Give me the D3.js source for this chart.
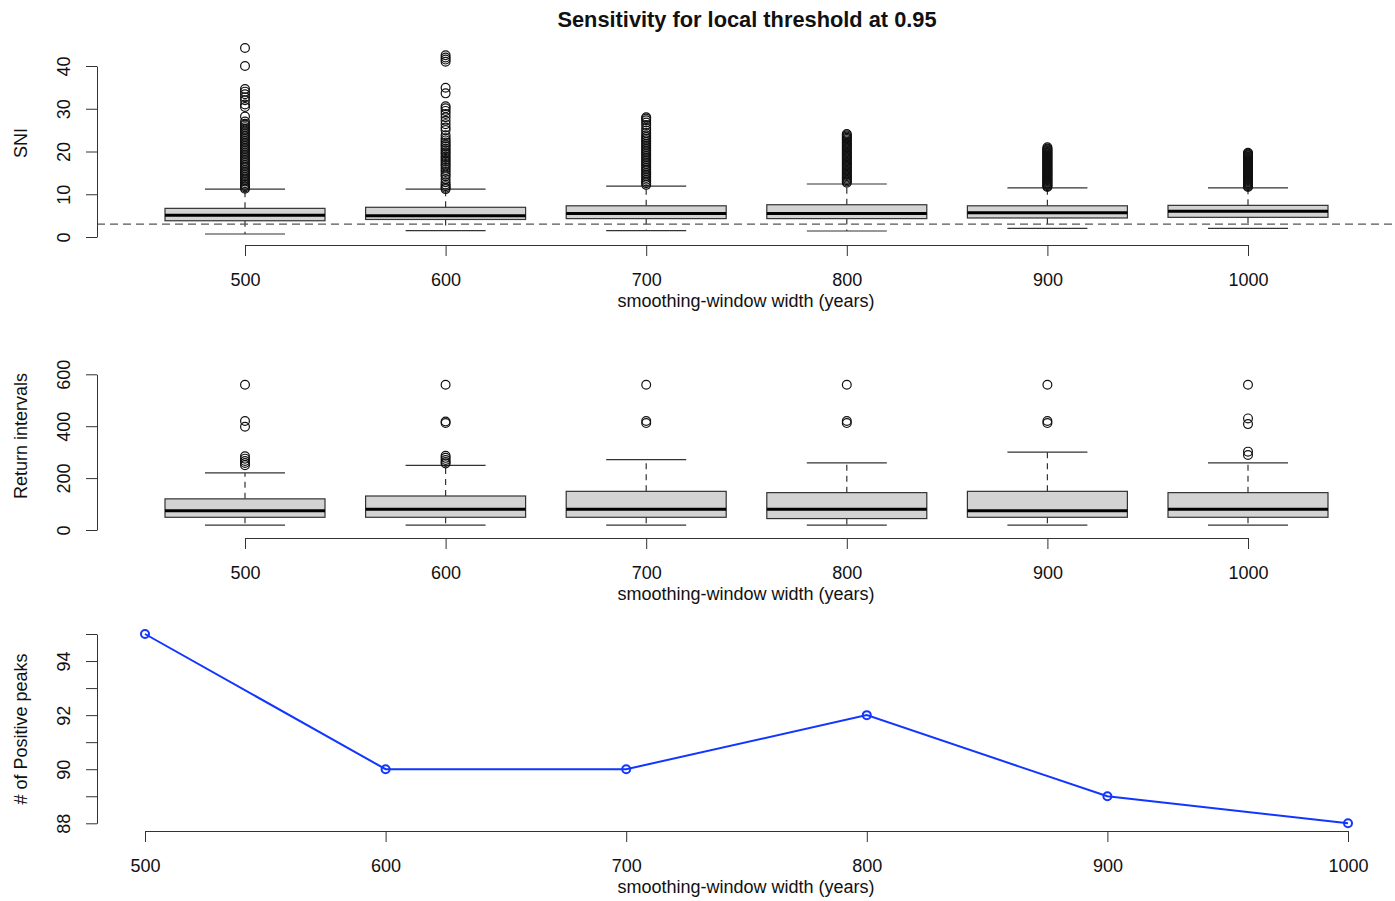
<!DOCTYPE html>
<html>
<head>
<meta charset="utf-8">
<script src="https://cdn.jsdelivr.net/npm/d3@7"></script>
<style>
  body { margin: 0; background: #fff; }
  svg { display: block; font-family: "Liberation Sans", Arial, Helvetica, sans-serif; }
</style>
</head>
<body>
<div id="chart"></div>
<script>
// smoothing windows (x categories)
const windows = [500, 600, 700, 800, 900, 1000];

// SNI box stats
const sniLow  = [0.7, 1.5, 1.5, 1.4, 2.0, 2.0];
const sniQ1   = [3.8, 4.1, 4.3, 4.3, 4.45, 4.6];
const sniMed  = [5.1, 5.0, 5.5, 5.5, 5.7, 6.0];
const sniQ3   = [6.7, 6.95, 7.3, 7.55, 7.3, 7.4];
const sniHigh = [11.2, 11.2, 11.9, 12.4, 11.5, 11.5];
const sniOutliers = [
  [11.3, 11.6, 11.9, 12.2, 12.6, 13.0, 13.3, 13.7, 14.1, 14.5, 14.9, 15.3, 15.7, 16.1, 16.5, 16.9, 17.3, 17.7, 18.1, 18.5, 18.9, 19.3, 19.7, 20.1, 20.5, 20.9, 21.3, 21.7, 22.1, 22.5, 22.9, 23.3, 23.7, 24.1, 24.5, 24.9, 25.3, 25.7, 26.1, 26.5, 27.0, 28.2, 30.4, 31.0, 32.0, 32.7, 33.4, 34.0, 34.6, 40.0, 44.2],
  [11.2, 11.5, 11.9, 12.3, 12.8, 13.5, 14.2, 14.6, 15.2, 15.7, 16.2, 16.7, 17.1, 17.6, 18.0, 18.5, 18.9, 19.4, 19.8, 20.3, 20.7, 21.2, 21.6, 22.1, 22.6, 23.1, 23.8, 25.0, 25.6, 26.4, 27.2, 28.0, 28.8, 29.5, 30.1, 30.6, 33.6, 34.9, 41.0, 41.5, 42.0, 42.5],
  [12.2, 12.6, 13.0, 13.4, 13.8, 14.2, 14.6, 15.0, 15.4, 15.8, 16.2, 16.6, 17.0, 17.4, 17.8, 18.2, 18.6, 19.0, 19.4, 19.8, 20.2, 20.6, 21.0, 21.4, 21.8, 22.2, 22.6, 23.0, 23.4, 23.8, 24.3, 24.9, 25.5, 26.2, 26.8, 27.3, 27.7, 28.0],
  [12.7, 13.0, 13.3, 13.6, 13.9, 14.2, 14.5, 14.8, 15.1, 15.4, 15.7, 16.0, 16.3, 16.6, 16.9, 17.2, 17.5, 17.8, 18.1, 18.4, 18.7, 19.0, 19.3, 19.6, 19.9, 20.2, 20.5, 20.8, 21.1, 21.4, 21.7, 22.0, 22.3, 22.6, 22.9, 23.2, 23.5, 23.8, 24.1],
  [11.7, 11.9, 12.1, 12.3, 12.5, 12.7, 12.9, 13.1, 13.3, 13.5, 13.7, 13.9, 14.1, 14.3, 14.5, 14.7, 14.9, 15.1, 15.3, 15.5, 15.7, 15.9, 16.1, 16.3, 16.5, 16.7, 16.9, 17.1, 17.3, 17.5, 17.7, 17.9, 18.1, 18.3, 18.5, 18.7, 18.9, 19.1, 19.3, 19.5, 19.7, 19.9, 20.1, 20.3, 20.5, 20.7, 21.0],
  [11.7, 11.9, 12.1, 12.3, 12.5, 12.7, 12.9, 13.1, 13.3, 13.5, 13.7, 13.9, 14.1, 14.3, 14.5, 14.7, 14.9, 15.1, 15.3, 15.5, 15.7, 15.9, 16.1, 16.3, 16.5, 16.7, 16.9, 17.1, 17.3, 17.5, 17.7, 17.9, 18.1, 18.3, 18.5, 18.7, 18.9, 19.1, 19.3, 19.5, 19.7]
];
const sniThreshold = 3;
const sniTicks = [0, 10, 20, 30, 40];

// Return interval box stats
const riLow  = [19, 19, 19, 19, 19, 19];
const riQ1   = [49, 49, 49, 44, 49, 49];
const riMed  = [74, 80, 80, 80, 74, 80];
const riQ3   = [120, 131, 149, 144, 149, 144];
const riHigh = [220, 249, 271, 259, 300, 259];
const riOutliers = [
  [250, 258, 266, 275, 284, 398, 420, 560],
  [256, 262, 270, 278, 286, 412, 418, 560],
  [412, 420, 560],
  [412, 420, 560],
  [412, 420, 560],
  [289, 302, 408, 430, 560]
];
const riTicks = [0, 200, 400, 600];

// number of positive peaks
const peaks = [95, 90, 90, 92, 89, 88];
const peakTicks = [88, 89, 90, 91, 92, 93, 94, 95];
const peakLabelled = [88, 90, 92, 94];

const W = 1395, H = 901;
const FONT = 18;
const axisCol = "#333";

const svg = d3.select("#chart").append("svg")
  .attr("width", W).attr("height", H);

svg.append("text")
  .attr("x", 747).attr("y", 27)
  .attr("text-anchor", "middle")
  .style("font-size", "21.8px").style("font-weight", "bold").attr("fill", "#111")
  .text("Sensitivity for local threshold at 0.95");

const plotLeft = 97, plotRight = 1396;
const xBox = d3.scaleLinear().domain([500, 1000]).range([245, 1248]);
const xLine = d3.scaleLinear().domain([500, 1000]).range([145, 1348]);

function styleAxis(g) {
  g.selectAll("path").attr("stroke", axisCol);
  g.selectAll(".tick line").attr("stroke", axisCol);
  g.selectAll("text").attr("fill", "#111").style("font-size", FONT + "px")
    .style("font-family", "Liberation Sans, Arial, Helvetica, sans-serif");
}

function drawXAxis(scale, yPos) {
  const g = svg.append("g")
    .attr("transform", `translate(0,${yPos})`)
    .call(d3.axisBottom(scale).tickValues(windows).tickFormat(d3.format("d"))
      .tickSize(11).tickSizeOuter(0))
    .call(styleAxis);
  g.selectAll(".tick text").attr("y", 41).attr("dy", 0);
  svg.append("text")
    .attr("x", 746).attr("y", yPos + 62)
    .attr("text-anchor", "middle").attr("fill", "#111")
    .style("font-size", FONT + "px")
    .text("smoothing-window width (years)");
}

function drawYAxis(scale, ticks, fmt, title, titleY) {
  const g = svg.append("g")
    .attr("transform", `translate(${plotLeft},0)`)
    .call(d3.axisLeft(scale).tickValues(ticks).tickFormat(fmt).tickSize(11).tickSizeOuter(0))
    .call(styleAxis);
  g.selectAll(".tick text")
    .attr("x", 0).attr("y", 0).attr("dy", 0)
    .attr("text-anchor", "middle")
    .attr("transform", "translate(-27,0) rotate(-90)");
  svg.append("text")
    .attr("transform", `translate(27,${titleY}) rotate(-90)`)
    .attr("text-anchor", "middle").attr("fill", "#111")
    .style("font-size", FONT + "px")
    .text(title);
}

function drawBoxes(y, low, q1, med, q3, high, outliers) {
  const half = 80, cap = 40;
  const g = svg.append("g");
  windows.forEach((w, i) => {
    const cx = xBox(w);
    // whiskers (dashed)
    g.append("line").attr("x1", cx).attr("x2", cx)
      .attr("y1", y(q3[i])).attr("y2", y(high[i]))
      .attr("stroke", axisCol).attr("stroke-width", 1.2).attr("stroke-dasharray", "6,5");
    g.append("line").attr("x1", cx).attr("x2", cx)
      .attr("y1", y(q1[i])).attr("y2", y(low[i]))
      .attr("stroke", axisCol).attr("stroke-width", 1.2).attr("stroke-dasharray", "6,5");
    // caps
    [low[i], high[i]].forEach(v => {
      g.append("line").attr("x1", cx - cap).attr("x2", cx + cap)
        .attr("y1", y(v)).attr("y2", y(v)).attr("stroke", axisCol).attr("stroke-width", 1.2);
    });
    // box
    g.append("rect")
      .attr("x", cx - half).attr("width", half * 2)
      .attr("y", y(q3[i])).attr("height", y(q1[i]) - y(q3[i]))
      .attr("fill", "#d3d3d3").attr("stroke", axisCol).attr("stroke-width", 1.2);
    g.append("line").attr("x1", cx - half).attr("x2", cx + half)
      .attr("y1", y(med[i])).attr("y2", y(med[i]))
      .attr("stroke", "#000").attr("stroke-width", 3);
    // outliers
    g.selectAll(null).data(outliers[i]).enter().append("circle")
      .attr("cx", cx).attr("cy", d => y(d)).attr("r", 4.4)
      .attr("fill", "none").attr("stroke", "#111").attr("stroke-width", 1.2);
  });
}

// ---- Panel 1: SNI
const ySni = d3.scaleLinear().domain([0, 40]).range([237, 66]);
drawBoxes(ySni, sniLow, sniQ1, sniMed, sniQ3, sniHigh, sniOutliers);
svg.append("line")
  .attr("x1", plotLeft).attr("x2", plotRight)
  .attr("y1", ySni(sniThreshold)).attr("y2", ySni(sniThreshold))
  .attr("stroke", "#555").attr("stroke-width", 1.3).attr("stroke-dasharray", "8,5");
drawYAxis(ySni, sniTicks, d3.format("d"), "SNI", 143);
drawXAxis(xBox, 245);

// ---- Panel 2: Return intervals
const yRi = d3.scaleLinear().domain([0, 600]).range([530, 374.3]);
drawBoxes(yRi, riLow, riQ1, riMed, riQ3, riHigh, riOutliers);
drawYAxis(yRi, riTicks, d3.format("d"), "Return intervals", 436);
drawXAxis(xBox, 538);

// ---- Panel 3: positive peaks
const yPk = d3.scaleLinear().domain([88, 95]).range([823.3, 634]);
const lineData = windows.map((w, i) => ({ w, v: peaks[i] }));
const blue = "#1236ff";
svg.append("path")
  .datum(lineData)
  .attr("fill", "none").attr("stroke", blue).attr("stroke-width", 2)
  .attr("d", d3.line().x(d => xLine(d.w)).y(d => yPk(d.v)));
svg.selectAll(".pk").data(lineData).enter().append("circle")
  .attr("class", "pk")
  .attr("cx", d => xLine(d.w)).attr("cy", d => yPk(d.v)).attr("r", 4)
  .attr("fill", "none").attr("stroke", blue).attr("stroke-width", 2);
drawYAxis(yPk, peakTicks, d => peakLabelled.includes(d) ? d : "", "# of Positive peaks", 729);
drawXAxis(xLine, 831);
</script>
</body>
</html>
